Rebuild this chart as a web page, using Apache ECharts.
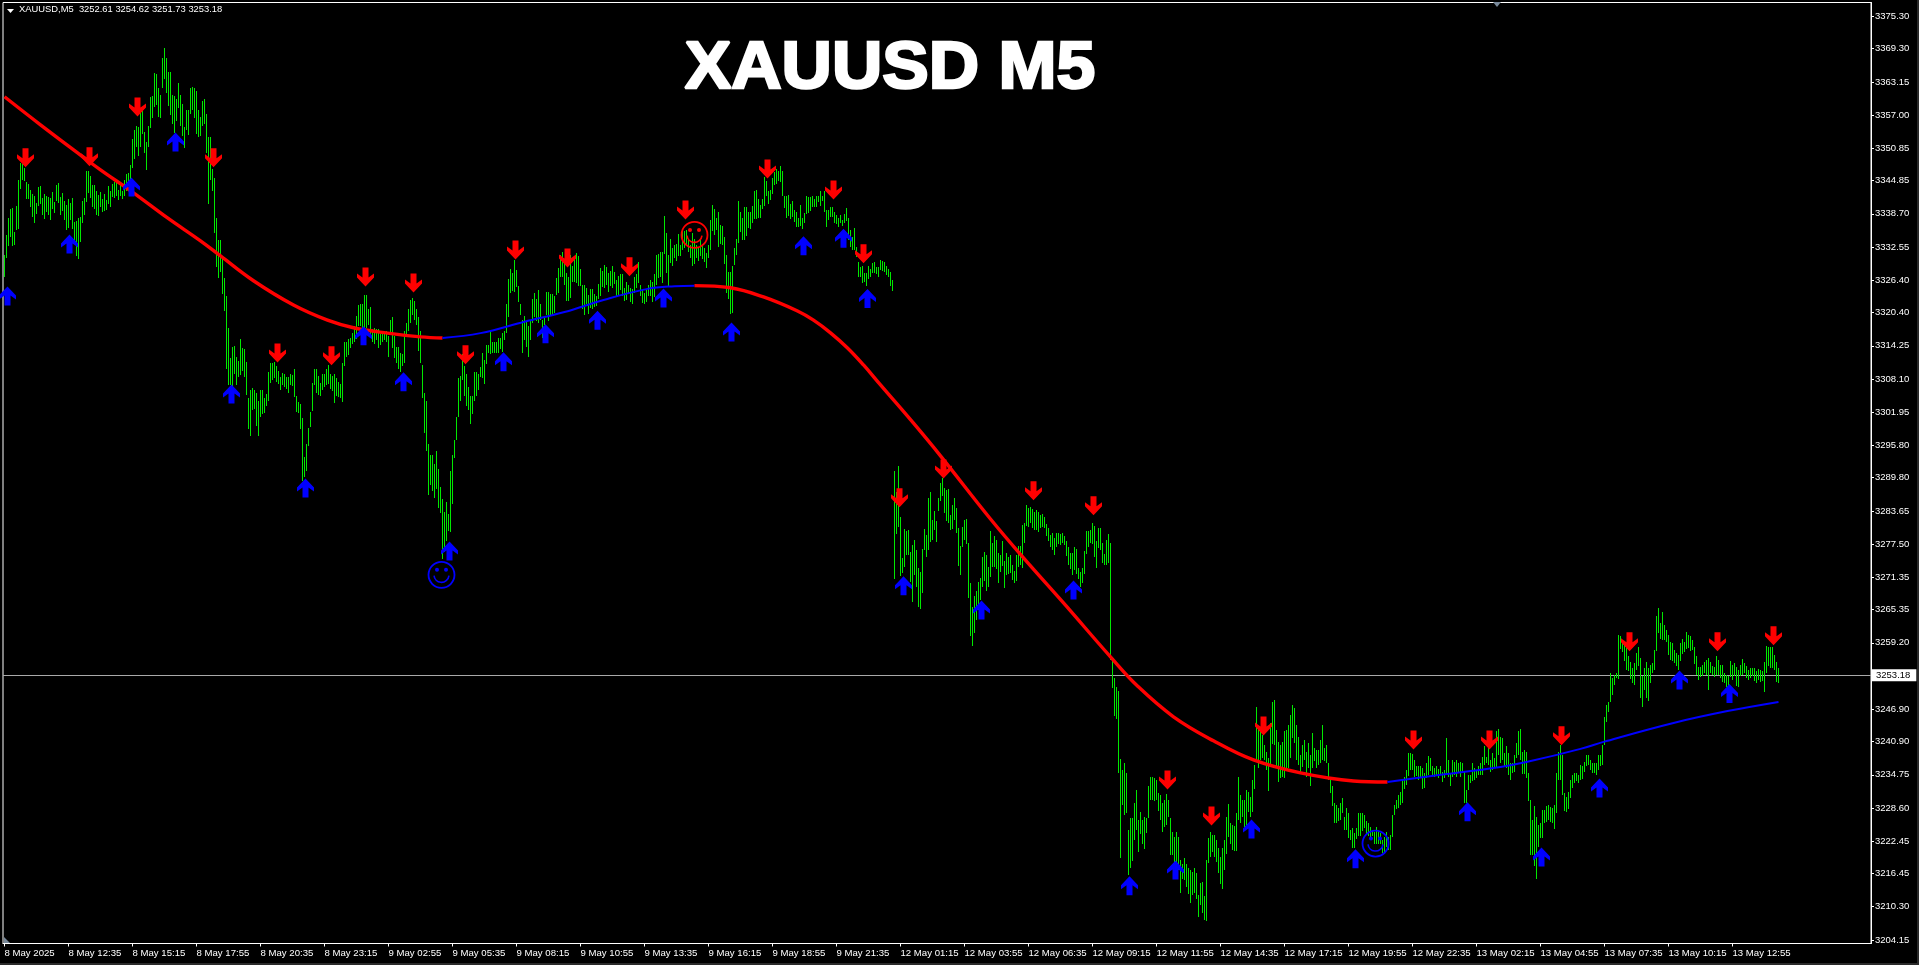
<!DOCTYPE html>
<html>
<head>
<meta charset="utf-8">
<style>html,body{margin:0;padding:0;background:#000;overflow:hidden}#c{width:1919px;height:965px}</style>
<script src="https://cdn.jsdelivr.net/npm/echarts@6/dist/echarts.min.js"></script>
</head>
<body>
<div id="c"></div>
<script>
const symbolLabel = 'XAUUSD,M5  3252.61 3254.62 3251.73 3253.18';
const chartTitle = 'XAUUSD M5';
const lastPrice = 3253.18;
const priceTicks = [3375.30,3369.30,3363.15,3357.00,3350.85,3344.85,3338.70,3332.55,3326.40,3320.40,3314.25,3308.10,3301.95,3295.80,3289.80,3283.65,3277.50,3271.35,3265.35,3259.20,3246.90,3240.90,3234.75,3228.60,3222.45,3216.45,3210.30,3204.15];
const timeLabels = ['8 May 2025','8 May 12:35','8 May 15:15','8 May 17:55','8 May 20:35','8 May 23:15','9 May 02:55','9 May 05:35','9 May 08:15','9 May 10:55','9 May 13:35','9 May 16:15','9 May 18:55','9 May 21:35','12 May 01:15','12 May 03:55','12 May 06:35','12 May 09:15','12 May 11:55','12 May 14:35','12 May 17:15','12 May 19:55','12 May 22:35','13 May 02:15','13 May 04:55','13 May 07:35','13 May 10:15','13 May 12:55'];
const barsPerLabel = 32;

const highs = [
3331.1,3334.8,3337.9,3339.6,3339.8,3335.4,3340.2,3345,3348.1,3348,
3347.2,3344.6,3344.2,3343.2,3342.4,3342,3340.7,3343.6,3343.8,3341.6,
3342.4,3342,3341.9,3341.7,3342.8,3340.9,3344,3344.4,3341.9,3342.5,
3341,3340.4,3341.5,3340.7,3341.6,3337.2,3337.3,3338,3338.2,3341,
3341.6,3346.7,3346.6,3345.7,3344,3344,3343,3342.2,3342.8,3341.4,
3342.4,3341.3,3343.8,3343,3344.3,3344.6,3345,3343.2,3344.2,3343,
3345,3346,3346.2,3347.7,3352.5,3354.3,3354.9,3354.8,3357.5,3358,
3353.8,3352.1,3355,3360.3,3360.5,3364.8,3364.7,3362,3360.8,3367.6,
3369.4,3367.6,3365,3365,3360.8,3360.5,3360,3363,3360.8,3359,
3354.8,3358,3358,3362,3362.3,3362,3361.5,3358,3356.6,3359.6,
3360,3357.2,3353,3353,3347,3345.3,3337.9,3333.9,3333.8,3330.8,
3326.8,3323.5,3317.5,3312,3314,3314.2,3312.2,3311.5,3315.6,3313.8,
3313.6,3311.2,3304.5,3306,3306.5,3306,3305.5,3304,3306,3306,
3304.5,3305.3,3309.4,3311,3311,3311.2,3310.5,3309.5,3308.5,3309.2,
3309,3308.5,3308.5,3309,3308.9,3310,3305,3303.8,3303.5,3300.8,
3293.7,3296,3299,3302,3307.3,3310,3310,3308.6,3307.4,3309,
3309,3310,3310.7,3309,3308.7,3309,3308.3,3307.5,3307.2,3311,
3315,3315,3315.5,3315.7,3316.6,3318,3319.8,3321.8,3322,3322,
3323.7,3323.7,3321,3321.5,3317.4,3317.6,3317.4,3317.4,3316.5,3316.5,
3317,3317,3316,3319,3319.5,3316,3314,3314,3313,3312.7,
3316.9,3318.5,3321,3322.7,3323.1,3322.5,3321,3319.5,3317,3310.7,
3305.5,3304,3296,3294,3294,3292.3,3294.7,3291.5,3288,3285.8,
3283.5,3285.3,3283,3291,3294,3296.8,3301,3308.2,3308.7,3312.8,
3310.5,3309,3306.7,3305,3305,3309.4,3309.4,3309,3310.4,3312.9,
3311.7,3314.4,3314.4,3316.8,3314.9,3315,3315,3315.7,3315.7,3316.6,
3317,3322,3326.7,3328.5,3327.7,3330.2,3328.3,3325.3,3322,3319,
3319.7,3318.7,3318,3319,3322.9,3324,3323,3324.5,3322,3319,
3319.5,3324.2,3324.2,3323.9,3323.9,3323.4,3326.8,3328.6,3331,3331.7,
3330,3327.8,3327,3331,3329,3330.8,3331.5,3330.8,3328.5,3325.6,
3325.5,3325,3323.6,3324.8,3324.7,3323.9,3323.5,3325.7,3328.7,3328.2,
3329.3,3328.9,3327.7,3328.2,3329,3328,3326.5,3327.1,3327.5,3327.6,
3325,3326,3325.5,3325,3324.8,3327,3327.6,3329.8,3325.5,3324.5,
3324,3324.6,3325.5,3326.5,3326,3327.5,3331,3331.2,3331.7,3331.7,
3338.3,3335.2,3331,3334,3332.4,3333,3333.2,3335,3333,3335.5,
3335.5,3335.7,3334,3333,3335.2,3334,3333,3332.4,3334,3333,
3332.4,3331.5,3333,3337.5,3340.3,3339.6,3338,3339,3336.7,3336.4,
3334.5,3331,3328,3328,3329,3332.4,3334,3341,3339.1,3338,
3340,3340,3339,3339,3340.2,3342.9,3343.2,3341.5,3340.3,3341.5,
3345.6,3344.7,3343,3343.2,3345.3,3346.5,3347,3346.7,3347.5,3346.6,
3342,3342,3342.2,3340.6,3341,3339.4,3339,3338,3340.3,3338,
3338.8,3342,3341.8,3341.8,3342,3341.5,3342,3342,3343,3342,
3343,3339.4,3339.5,3339.9,3339.9,3339,3338.4,3338,3338.4,3337.5,
3338.6,3339.8,3338,3335.8,3334.5,3336,3332.5,3329.7,3328.8,3329,
3327.7,3327.7,3329,3328.4,3329.6,3329.8,3328.8,3328.8,3330.1,3329.9,
3329.8,3329,3328.4,3328,3326.5,3291,3287.2,3292,3282.5,3274.9,
3280.3,3280,3280.2,3276.1,3277.3,3278.3,3276.4,3273,3272.3,3276.5,
3280.3,3279.2,3286,3287.2,3282,3283.7,3281.7,3286,3288.8,3289.7,
3287.9,3287.5,3287.7,3282.9,3284.8,3286,3284.2,3280.4,3277.2,3280.7,
3282,3282.1,3277.7,3270.2,3265.9,3267.9,3268.8,3270.5,3271.2,3275.1,
3276,3275.4,3273.3,3280,3277.7,3279,3278.3,3275.8,3275.5,3278,
3274.3,3275.8,3275.2,3275.5,3273.6,3272.6,3275.5,3277.2,3277.2,3281,
3281.4,3284.8,3284.2,3284.3,3284,3283.5,3283.8,3283.5,3282.9,3283.1,
3282.6,3281.2,3280.4,3279.2,3279.5,3278.6,3279.6,3279.5,3279.3,3279.6,
3279,3278,3277,3275.9,3275.8,3277,3276.5,3273,3272.4,3273,
3276.3,3280,3280,3280.1,3281.5,3280.9,3278,3280.4,3280.4,3277.7,
3275.6,3278.3,3279.3,3277.7,3256,3252.6,3251.1,3250.2,3237.7,3235.6,
3236.9,3235,3224.5,3226.7,3226.7,3229.5,3231.9,3226.4,3227.9,3226.4,
3227,3226.7,3232.6,3234.4,3234.3,3234.1,3233.8,3231.3,3231,3229.5,
3230.1,3231.2,3230.1,3226.7,3224.2,3223.3,3224.2,3223.3,3219,3218.3,
3219.3,3218.3,3217.4,3217.1,3216.8,3217.4,3216.5,3212.5,3214.6,3214.9,
3212.2,3219,3223,3224.2,3223.6,3223.6,3222.7,3221.1,3219.6,3221.1,
3222.7,3227,3229.4,3225.8,3225.5,3225.2,3227.6,3234.4,3231,3230.1,
3230.1,3231.9,3231.6,3230.7,3233.8,3236.6,3247.4,3243.7,3243,3242.1,
3240.3,3239,3237.8,3244.3,3248.3,3248.6,3243,3240.9,3240.3,3240.9,
3242.8,3243,3244,3245.8,3247.7,3247.1,3244,3241.8,3238.4,3240.3,
3241.2,3239,3240.6,3238.4,3242.4,3239.7,3239.4,3239.4,3241.2,3244,
3239.7,3240.3,3236.9,3233.8,3232.6,3229.5,3229.2,3228.5,3229.5,3230.4,
3227,3228.5,3227.6,3224.5,3224.8,3223.9,3224.8,3227.6,3227.6,3227.6,
3227.3,3226.1,3225.8,3225.1,3224.5,3224.2,3225.1,3224.2,3223.9,3222.7,
3223.3,3224.2,3223.3,3223.6,3227.3,3229.2,3230.1,3231,3231.6,3233.8,
3234.4,3235.6,3238.7,3238.7,3238.6,3237.5,3236.3,3236.4,3236.3,3236,
3235,3236.9,3238.2,3237.8,3236.3,3236,3236.3,3235.8,3236.4,3235.3,
3235.6,3241.5,3237.5,3235,3237.5,3237.2,3237.5,3236.9,3237.2,3236.9,
3235.3,3231.9,3234.7,3234.7,3236.9,3236,3235.6,3236.3,3236.9,3238.1,
3240.1,3238.1,3239.7,3237.5,3238.7,3237.8,3242.8,3243.2,3241.8,3241.5,
3238.7,3240,3238.7,3236.9,3236.9,3238.4,3240.6,3242.8,3243.2,3239,
3239.4,3239,3235,3230.1,3226.4,3228.9,3227,3225.5,3225.8,3228.2,
3228.2,3229,3229.2,3228.8,3228.5,3229.2,3235,3239,3240.3,3238.4,
3231.3,3230.7,3231.6,3233.8,3234.7,3235,3235,3234.7,3236.6,3236.3,
3237.2,3238.4,3238.4,3237.5,3237,3236.9,3236.9,3238.4,3238.4,3240.3,
3245.5,3247.7,3248.3,3253.6,3252.7,3253.3,3253.6,3260.7,3260.4,3259.4,
3259.1,3258.2,3256.7,3255.7,3254.5,3255.4,3257.3,3258.4,3256.4,3253,
3254.5,3255.7,3254.5,3255.1,3255.4,3257.9,3264.1,3265.6,3262.8,3265,
3262.5,3261.6,3260.7,3259.4,3259.1,3257.9,3257.3,3257,3259.1,3260,
3259.4,3261.3,3260.7,3260.4,3259.8,3258.5,3256.8,3254.8,3254.8,3255.1,
3255.7,3256,3256.3,3255.7,3254.9,3254.8,3256.8,3256,3255.1,3255.1,
3253.6,3253.3,3253,3255.9,3255.1,3255.4,3254.7,3254.2,3255.1,3256.2,
3255.4,3254.9,3254.2,3254.5,3254.5,3254.5,3253.9,3254.3,3254.2,3253.9,
3255.7,3258.6,3258.4,3258.5,3258.5,3257,3255.7,3254.5
];
const lows = [
3327.1,3330.5,3332.8,3334.4,3332.8,3333,3335.7,3335.9,3343.3,3345,
3344.7,3341.5,3341.4,3340.1,3338.2,3337,3338.7,3340,3340.4,3338.4,
3337.8,3339,3338.5,3337.6,3339.6,3338.8,3341,3340.7,3338.6,3339.2,
3337.4,3335.7,3336.2,3337.6,3335.9,3333.1,3330.9,3330.4,3333.6,3337,
3338.5,3341,3342.5,3341.6,3340,3339.5,3338.6,3338.4,3340,3339,
3339.3,3339.5,3340.4,3340,3341.8,3341.6,3342.1,3341.4,3342,3341.6,
3342,3342.8,3344,3343,3347.2,3349,3351,3349.5,3351.1,3353.5,
3349.9,3347,3351.2,3354.6,3356.5,3358.5,3358.9,3356.7,3356.5,3362,
3363.6,3361.2,3358.7,3357,3355.5,3353.7,3356,3358.4,3355,3353,
3350.9,3354.3,3353.3,3357.2,3358,3356.5,3353.6,3353,3353,3355,
3355.4,3350,3340.5,3345,3343,3335.1,3328.9,3326.8,3327.8,3323.7,
3320.6,3310,3306.9,3307,3306.8,3309,3307,3308.5,3309,3309.5,
3308.4,3305.1,3298.7,3297.5,3302.5,3302.5,3299.4,3297.6,3301,3301.5,
3301.8,3303,3304,3307.3,3307.8,3308.2,3307.5,3307,3306,3307,
3306.6,3306.3,3305.5,3307,3306.8,3304.8,3302,3301.8,3298.8,3289.1,
3290,3291,3295.6,3299.3,3302.2,3307,3305.5,3305,3305,3306.1,
3306.6,3307,3307.2,3306.3,3306,3303.7,3305,3304.8,3304.6,3303.7,
3310.5,3312.3,3312.5,3313.9,3314.5,3315,3315.5,3318,3318,3316.5,
3316.6,3317.5,3318,3316,3315,3314.6,3315.3,3313.8,3314.5,3315,
3315.4,3315,3312.2,3316.5,3313.8,3312,3311,3309.9,3309.4,3310.5,
3311,3316,3317,3318.5,3320,3319,3318.1,3313.2,3311,3304.6,
3298,3294.7,3286.6,3288.5,3287.3,3286,3287.7,3284.3,3283.2,3274.6,
3276,3278,3279.8,3279.7,3285,3293.5,3296.7,3301,3304,3308,
3305,3303,3302.5,3299.8,3301.6,3304,3305,3306,3308.5,3308.2,
3307.3,3310.9,3312.9,3312.8,3312.8,3313,3312.9,3313,3313.7,3313,
3315.3,3316.7,3319.7,3324,3324.3,3324.3,3325.2,3322.3,3320,3312.9,
3315.3,3314.1,3312.3,3315.3,3318.4,3319.5,3319,3318.3,3319,3315.6,
3318,3319.9,3318.8,3320,3320,3320.3,3323.7,3324,3327,3327,
3325.5,3322.7,3322.5,3323,3326,3326,3326,3325.3,3325.3,3321.2,
3320,3322,3320,3321.2,3321,3321.5,3321.6,3323,3323.6,3325.2,
3325,3325.5,3324.2,3325.4,3325,3325.7,3323.5,3323.5,3324.5,3323.6,
3322.5,3322.7,3323.9,3322.4,3322,3324,3325,3326,3323.5,3322,
3321.9,3322.3,3323.5,3323.5,3322.3,3323.3,3325.5,3326.8,3327,3326,
3331.3,3327.7,3325,3329.5,3329,3330.5,3330,3331,3331,3332,
3332.3,3332.7,3331.5,3330.5,3329,3329.4,3330.5,3330,3330.9,3330.4,
3329.8,3328.7,3330.6,3332,3335.5,3334.7,3335.8,3332.6,3333.2,3332.9,
3329.5,3323.9,3323,3320.3,3320.3,3329.3,3331,3333.3,3335.4,3334,
3333.9,3334.7,3336,3335.8,3337,3337.8,3337.9,3338,3337.9,3339.6,
3340.2,3342,3340.5,3341.3,3342.3,3344,3344.3,3344.8,3344.6,3342,
3339.7,3337.9,3338.4,3337.8,3338,3337.1,3336.2,3336.3,3336.5,3336,
3336.9,3338.6,3338.9,3339.2,3340,3340,3340,3340.8,3340.3,3341,
3339.2,3336.2,3337.6,3338,3338.1,3337,3336.8,3336.3,3337,3336.3,
3337,3337.3,3334,3332.6,3332,3332,3330.7,3327,3327,3325.9,
3326,3325.2,3326.5,3327,3327.8,3327.8,3327.5,3327,3328.3,3328,
3328,3327.4,3327,3325.4,3324.4,3270.9,3279.5,3280.7,3271.5,3272.1,
3273.3,3275.5,3275.5,3270.6,3266.8,3271.8,3269.6,3265.7,3265.5,3268.3,
3276.4,3275.1,3276.3,3278,3278.3,3280.1,3277.8,3283.5,3285.4,3286.3,
3283.2,3281.7,3281.4,3280.1,3280.4,3282,3279.5,3273.3,3271.8,3277,
3278.3,3277.4,3267.5,3260.4,3258.7,3261,3263.5,3265.3,3267.2,3269.6,
3270.6,3268.7,3269.6,3271.5,3273.3,3273.3,3273,3270.2,3272.4,3273.3,
3269.3,3271.8,3272.1,3272.1,3270.9,3270.4,3270.6,3273.3,3273.6,3273,
3277.7,3281,3280.6,3281.4,3280.4,3280.2,3280.1,3279.8,3280.4,3280.6,
3280.6,3278.9,3278,3277,3276.4,3275.5,3277,3277.4,3277.2,3277.7,
3277.4,3275.2,3273.6,3273,3271.8,3272.7,3271.8,3270.9,3269.6,3270.2,
3272.1,3275.8,3277,3277.7,3277.7,3275.2,3273,3276.7,3276.4,3274,
3273.6,3273.6,3274,3256,3250.8,3245.5,3245.2,3235,3219.3,3229.2,
3227.3,3227.6,3216.2,3217.4,3218.7,3222.7,3224.5,3220.5,3223.9,3222,
3221.1,3223.9,3226.7,3230.1,3230.1,3229.8,3230.1,3227.9,3226.4,3224.2,
3225.1,3225.4,3227,3219.9,3219.9,3218.4,3218.4,3217.1,3212.8,3215.6,
3215.3,3214,3212.5,3210.9,3212.5,3212.8,3211.6,3208.5,3210.6,3209.1,
3207.7,3207.7,3218.4,3219.6,3220.5,3219.6,3218.7,3216.5,3214.6,3213.5,
3217.1,3220.2,3223.3,3222,3220.8,3220.5,3220.5,3226.4,3225.8,3227,
3225.1,3225.1,3227.9,3227,3227.9,3232.2,3237.5,3236,3237.5,3237.8,
3237.5,3235.6,3231.6,3236.3,3240.6,3240.3,3236,3233.5,3234.1,3234.4,
3234.1,3236,3236,3237.8,3241.5,3240.6,3237.5,3236.6,3235.3,3236.3,
3237.5,3234.4,3236,3232.7,3236,3237.2,3236,3236.6,3236.9,3237.5,
3237.2,3236.9,3233.8,3231.3,3228.9,3225.8,3225.8,3226.1,3226.4,3227.6,
3224.5,3224.5,3223,3222.7,3221.1,3221.1,3222.7,3223.3,3223.3,3224.2,
3224.8,3223.6,3223.3,3223.3,3223.3,3222,3222,3222,3221.8,3220.2,
3220.5,3221.4,3220.8,3220.8,3223.3,3227.3,3228.5,3228.5,3229.2,3229.5,
3232.2,3232.9,3234.4,3235.6,3235.6,3234.4,3234.4,3233.8,3234.3,3232.2,
3232.2,3234.1,3234.7,3235.3,3234.4,3234.4,3234.7,3234.1,3234.7,3233.5,
3234.1,3234.7,3234.4,3232.6,3234.4,3234.7,3234.4,3235,3234.4,3235,
3229.5,3229.5,3231.9,3233.2,3233.5,3233.8,3234.1,3234.7,3234.7,3234.7,
3236.6,3236.9,3236.6,3235.3,3235.6,3236,3236,3238.4,3236.9,3237.5,
3236.3,3236,3234.7,3233.8,3235,3235.3,3237.8,3238.4,3237.5,3235,
3235,3234.1,3229.8,3219.9,3219.9,3217.7,3215.6,3221.4,3223,3223,
3225.8,3226.1,3226.4,3226.1,3225.8,3224.8,3227.6,3233.8,3233.8,3231,
3227.9,3227.9,3228.5,3230.4,3232.2,3233.2,3233.5,3233.2,3233.8,3233.8,
3235.4,3236.3,3236.6,3235.7,3235.2,3235,3234.7,3235.7,3236.3,3236.6,
3240.3,3244.6,3246.5,3248.3,3249.6,3251.4,3252.6,3252.6,3257.9,3257.6,
3255.7,3254.2,3253.9,3252.6,3251.7,3251.4,3254.2,3254.8,3249,3247.3,
3250.5,3249,3248.3,3251.7,3253.6,3254.2,3257.6,3261,3259.8,3259.8,
3259.8,3259.4,3257,3256,3255.7,3255.4,3254.8,3254.2,3255.7,3257.3,
3257.6,3258.2,3258.2,3257.6,3257.9,3255.4,3253.3,3252.3,3253,3253,
3253.6,3253.3,3250.4,3253.6,3253.3,3253,3253.3,3253.3,3252.6,3252,
3251.7,3251.1,3251.1,3253,3252.3,3253,3251.1,3251.1,3253,3253.3,
3253.6,3252.6,3252.3,3252.6,3253,3252,3251.7,3252.3,3252,3252,
3250.2,3253.6,3254.8,3254.7,3254.7,3254.2,3252,3251.7
];

const maRedA = [[0,3360.4],[18,3355.2],[38,3349.6],[48,3346.85],[64.5,3342.6],[81.5,3337.95],[98,3333.7],[108,3330.9],[124.5,3326.3],[144.5,3321.8],[161.5,3319],[174.5,3317.6],[191.5,3316.6],[208,3315.9],[219,3315.7]];
const maBlueA = [[219,3315.7],[238,3316.6],[260,3318.7],[280,3320.5],[299.5,3322.75],[321.5,3324.8],[335,3325.3],[345,3325.4]];
const maRedB = [[345,3325.4],[363,3325],[379.5,3323.3],[396.5,3320.7],[404.5,3319],[413,3316.65],[421.5,3313.85],[429.5,3310.7],[438,3307],[454.5,3299.9],[468,3293.85],[493,3282.15],[509.5,3274.95],[529.5,3266.6],[553,3256.6],[566.5,3251.2],[584.5,3245.5],[604.5,3241.05],[624.5,3237.5],[648,3235.1],[674.5,3233.6],[691.5,3233.4]];
const maBlueB = [[691.5,3233.4],[714.5,3234.55],[748,3236.2],[761.5,3237.15],[788,3239.55],[799.5,3240.85],[834.5,3244.35],[861.5,3246.55],[887,3248.25]];

const sellArrows = [[10.5,3349.1],[42.5,3349.3],[66.5,3358.5],[104.5,3349.1],[136.5,3312.9],[163.5,3312.4],[180.5,3327],[204.5,3325.9],[230.5,3312.6],[255.5,3332],[281.5,3330.5],[312.5,3328.9],[340.5,3339.4],[381.5,3347],[414.5,3343.1],[429.5,3331.3],[447.5,3286.1],[469.5,3291.4],[514.5,3287.4],[544.5,3284.6],[581.5,3233.8],[603.5,3227.1],[629.5,3243.8],[704.5,3241.2],[742.5,3241.2],[778.5,3242],[812.5,3259.4],[856.5,3259.4],[884.5,3260.5]];
const buyArrows = [[1.5,3323.5],[32.5,3333.1],[63.5,3343.7],[85.5,3352],[113.5,3305.3],[150.5,3287.9],[179.5,3316.1],[199.5,3307.6],[222.5,3276.2],[249.5,3311.3],[270.5,3316.5],[296.5,3319],[329.5,3323.1],[363.5,3316.8],[399.5,3332.8],[419.5,3334.2],[431.5,3323],[449.5,3269.8],[488.5,3265.3],[534.5,3269],[562.5,3214.2],[585.5,3217.1],[623.5,3224.7],[675.5,3219.2],[731.5,3227.9],[768.5,3219.5],[797.5,3232.3],[837.5,3252.3],[862.5,3249.8]];
const blueSmileys = [[218.5,3271.8],[685.5,3222]];
const redSmileys = [[345,3334.8]];

const upArrowPath = 'path://M8.5,0 L17,9 L17,13 L11.5,9 L11.5,19 L5.5,19 L5.5,9 L0,13 L0,9 Z';
const downArrowPath = 'path://M8.5,19 L0,10 L0,6 L5.5,10 L5.5,0 L11.5,0 L11.5,10 L17,6 L17,10 Z';

const chart = echarts.init(document.getElementById('c'), null, {renderer:'canvas'});
const axisFont = 'Liberation Sans';

function barItem(params, api){
  const top = api.coord([api.value(0), api.value(1)]);
  const bot = api.coord([api.value(0), api.value(2)]);
  return {type:'rect', shape:{x:Math.floor(top[0]), y:Math.round(top[1]), width:1, height:Math.max(1,Math.round(bot[1]-top[1]))}, style:{fill:'#00e800'}};
}
function smileyItem(color){
  return function(params, api){
    const p = api.coord([api.value(0), api.value(1)]);
    return {type:'group', x:p[0], y:p[1], children:[
      {type:'circle', shape:{cx:0,cy:0,r:13}, style:{fill:null, stroke:color, lineWidth:1.8}},
      {type:'circle', shape:{cx:-4.5,cy:-5,r:2}, style:{fill:color}},
      {type:'circle', shape:{cx:4.5,cy:-5,r:2}, style:{fill:color}},
      {type:'arc', shape:{cx:0,cy:0,r:7.5,startAngle:0.1,endAngle:Math.PI-0.1,clockwise:true}, style:{fill:null, stroke:color, lineWidth:1.6}}
    ]};
  };
}
function maSeries(data, color, width){
  return {type:'line', data:data, smooth:0.4, showSymbol:false, symbol:'none', silent:true, z:5, lineStyle:{color:color, width:width}};
}

chart.setOption({
  animation:false,
  backgroundColor:'#000',
  title:[
    {text:symbolLabel, left:19, top:5, padding:0, textStyle:{color:'#fff', fontFamily:axisFont, fontWeight:'normal', fontSize:9.4}}
  ],
  grid:{left:3, top:2.5, width:1868, height:941, show:true, borderColor:'#fff', borderWidth:1, backgroundColor:'#000'},
  xAxis:{type:'value', min:-0.75, max:933.25, position:'bottom',
    axisLine:{show:true, onZero:false, lineStyle:{color:'#fff'}}, splitLine:{show:false},
    axisTick:{show:true, length:3, lineStyle:{color:'#fff'}, customValues:timeLabels.map((_,k)=>k*barsPerLabel)},
    axisLabel:{color:'#fff', fontFamily:axisFont, fontSize:9.6, margin:5, align:'left', showMinLabel:true, showMaxLabel:true,
      customValues:timeLabels.map((_,k)=>k*barsPerLabel),
      formatter:v=>timeLabels[Math.round(v/barsPerLabel)]}},
  yAxis:{type:'value', min:3203.48, max:3377.87, position:'right', scale:true,
    axisLine:{show:true, onZero:false, lineStyle:{color:'#fff'}}, splitLine:{show:false},
    axisTick:{show:true, length:3, lineStyle:{color:'#fff'}, customValues:priceTicks},
    axisLabel:{color:'#fff', fontFamily:axisFont, fontSize:9.5, margin:4, customValues:priceTicks, formatter:v=>v.toFixed(2)}},
  graphic:[
    {type:'text', x:890, y:70, scaleX:1.04, z:20, style:{text:chartTitle, font:'bold 67px "Liberation Sans"', fill:'#fff', stroke:'#fff', lineWidth:2.5, textAlign:'center', textVerticalAlign:'middle'}},
    {type:'polygon', shape:{points:[[7,9],[14,9],[10.5,13]]}, style:{fill:'#fff'}, z:20},
    {type:'polygon', shape:{points:[[1493,2],[1501,2],[1497,7]]}, style:{fill:'#778899'}, z:20},
    {type:'polygon', shape:{points:[[4,937],[4,943],[10,943]]}, style:{fill:'#778899'}, z:20},
    {type:'rect', shape:{x:0,y:963,width:1919,height:2}, style:{fill:'#2a2a2a'}, z:20},
    {type:'rect', shape:{x:1917,y:0,width:2,height:965}, style:{fill:'#2a2a2a'}, z:20}
  ],
  series:[
    {type:'custom', renderItem:barItem, data:highs.map((h,i)=>[i,h,lows[i]]), encode:{x:0,y:[1,2]}, silent:true, z:2, clip:true,
     markLine:{silent:true, symbol:'none', animation:false, z:1,
       lineStyle:{color:'#a9a9a9', width:1, type:'solid'},
       label:{show:true, position:'end', distance:1, formatter:lastPrice.toFixed(2), color:'#000', backgroundColor:'#fff', fontFamily:axisFont, fontSize:9.5, padding:[1,6,1,4]},
       data:[{yAxis:lastPrice}]}},
    maSeries(maRedA,'#ff0000',3.4),
    maSeries(maBlueA,'#0000ff',2),
    maSeries(maRedB,'#ff0000',3.4),
    maSeries(maBlueB,'#0000ff',2),
    {type:'custom', renderItem:smileyItem('#0000ff'), data:blueSmileys, encode:{x:0,y:1}, silent:true, z:7},
    {type:'custom', renderItem:smileyItem('#ff0000'), data:redSmileys, encode:{x:0,y:1}, silent:true, z:7},
    {type:'scatter', data:sellArrows, symbol:downArrowPath, symbolSize:[17,19], silent:true, z:8, itemStyle:{color:'#ff0000',opacity:1}},
    {type:'scatter', data:buyArrows, symbol:upArrowPath, symbolSize:[17,19], silent:true, z:8, itemStyle:{color:'#0000ff',opacity:1}}
  ]
});
</script>
</body>
</html>
